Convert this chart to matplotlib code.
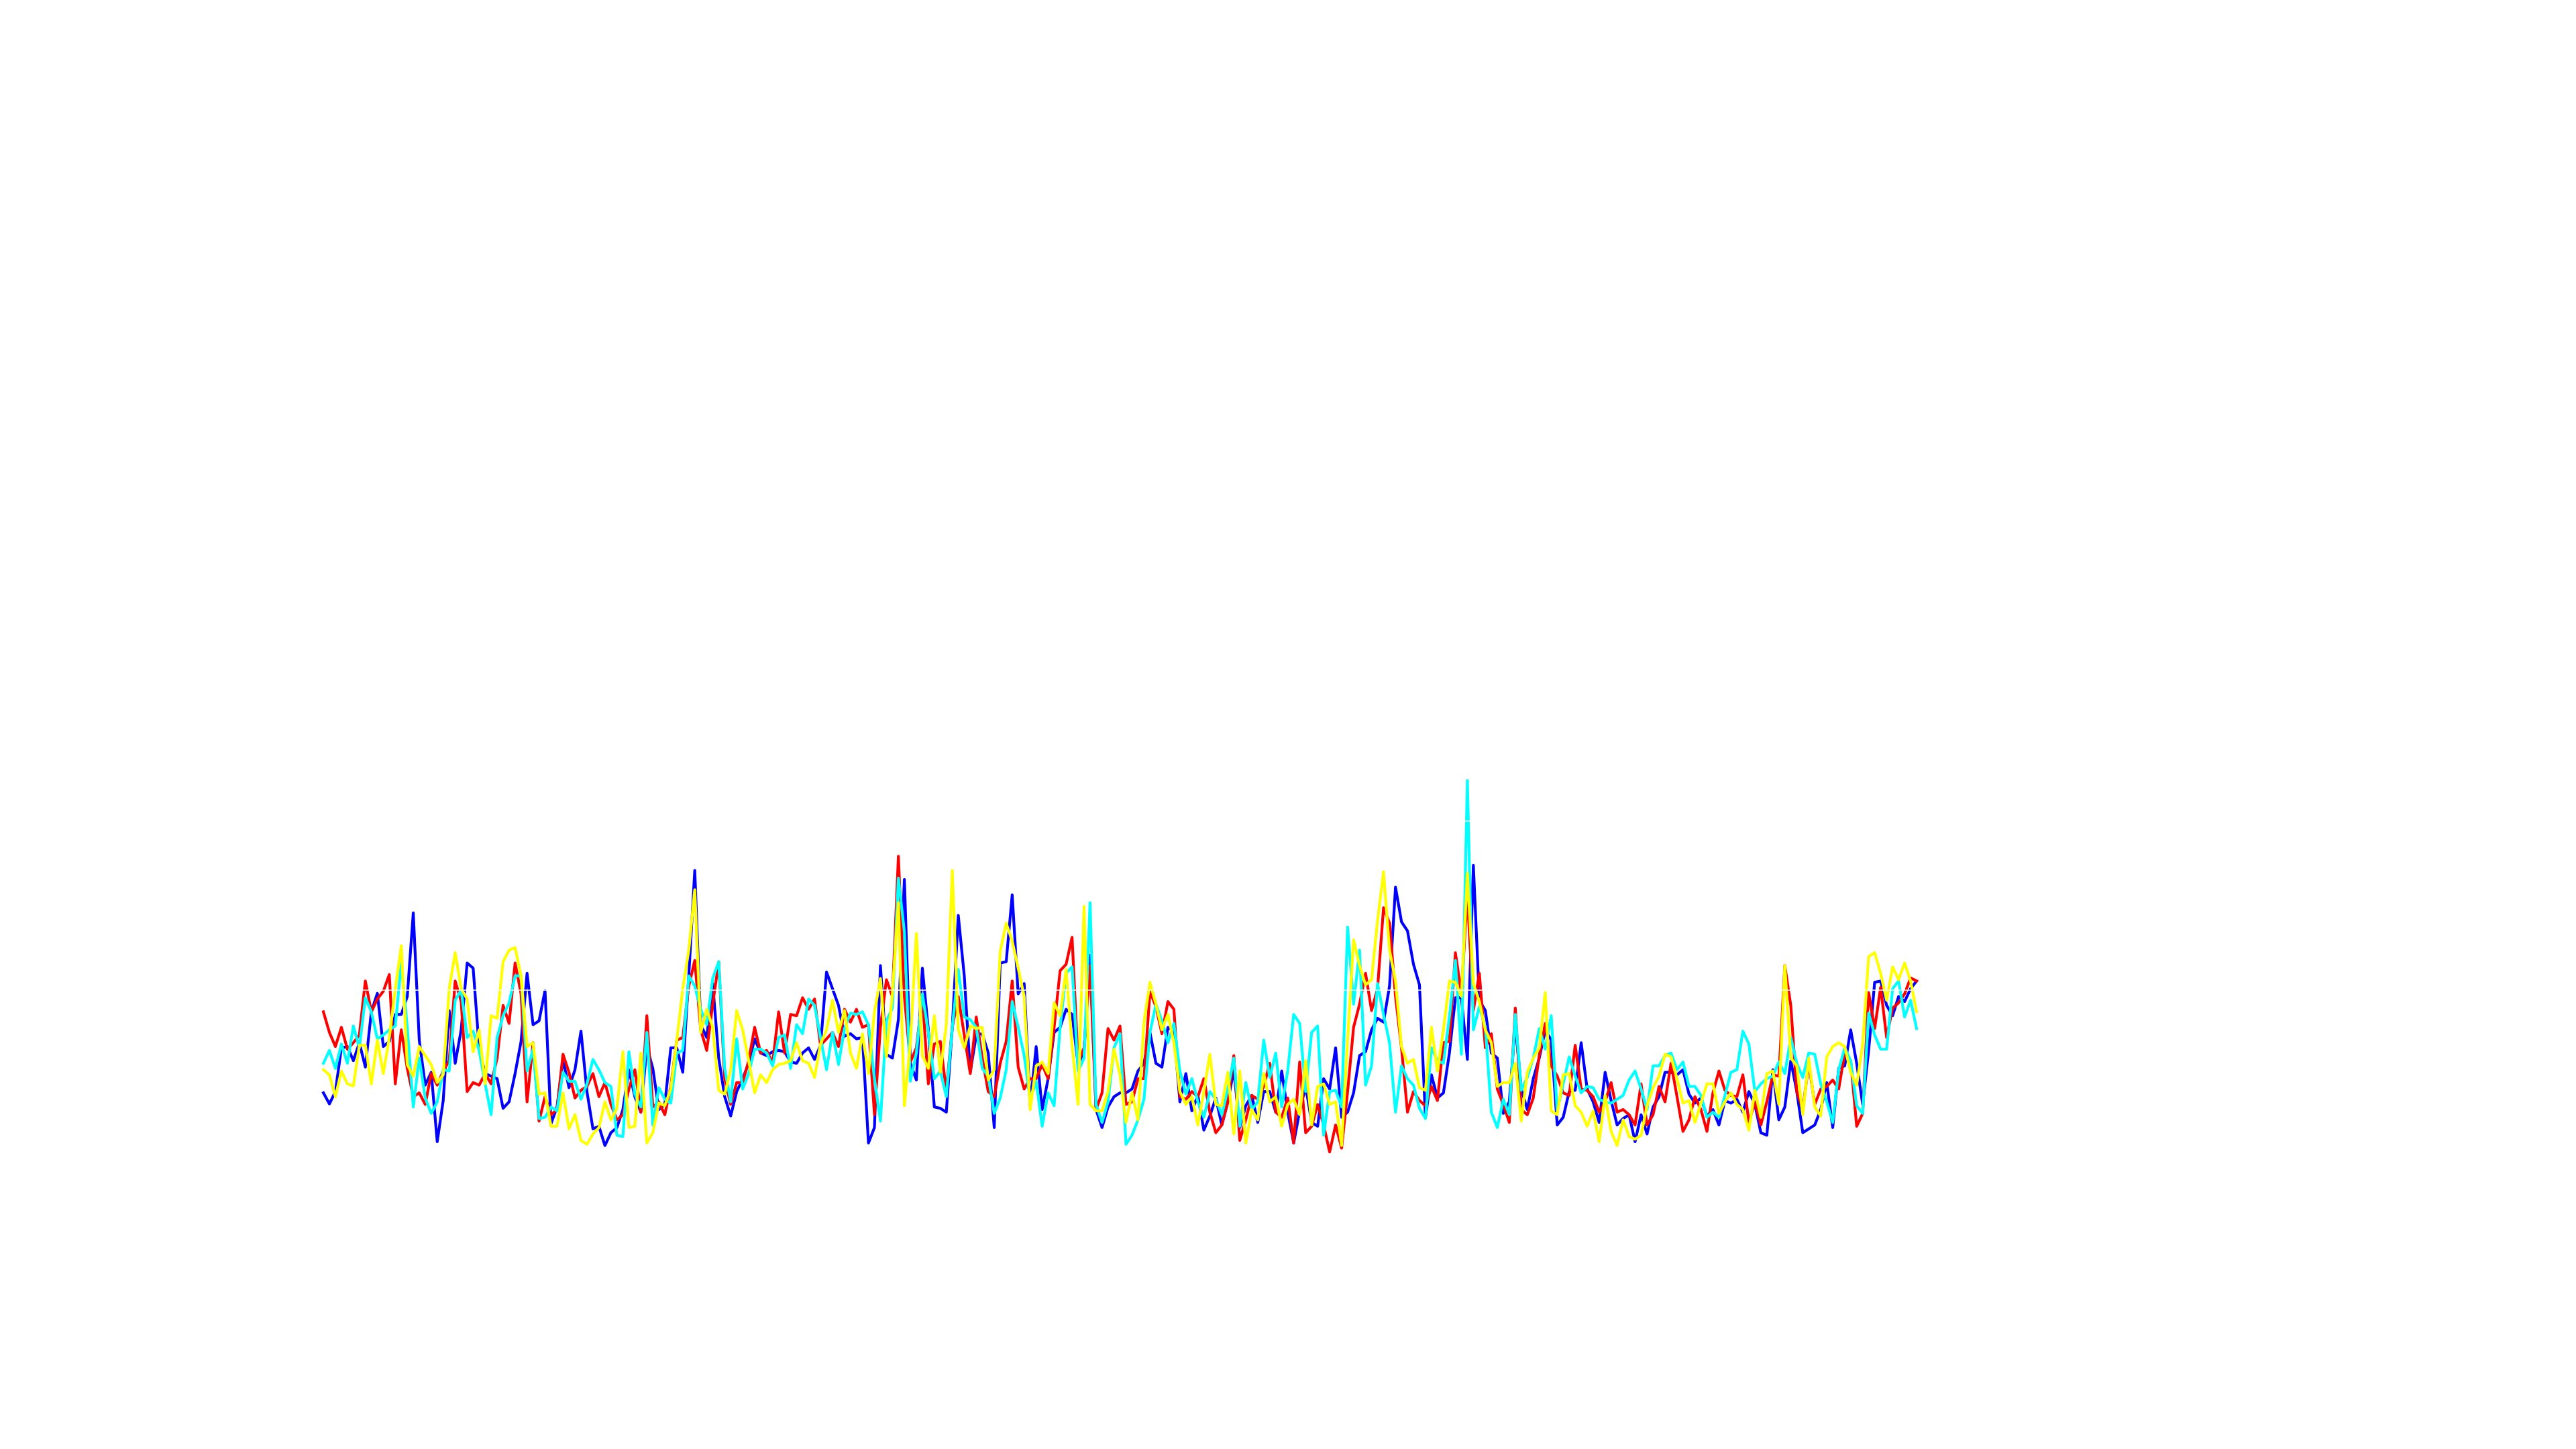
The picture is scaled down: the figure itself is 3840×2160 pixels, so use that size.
import numpy as np
import matplotlib
matplotlib.use("Agg")
import matplotlib.pyplot as plt

# values, one per step (267 steps)
blue = [485, 442, 490, 660, 665, 610, 680, 585, 800, 872, 665, 685, 790, 790, 860, 1185, 690, 515, 565, 295,
        455, 805, 600, 730, 990, 970, 660, 560, 550, 540, 425, 450, 560, 685, 950, 750, 765, 883, 365, 430,
        615, 505, 575, 725,
        490, 345, 355, 280, 330, 350, 420, 575, 470, 410, 665, 580, 420, 440, 660, 660, 565, 940, 1350, 750,
        700, 910, 620, 470, 395, 490, 540, 600, 695, 640, 630, 645, 650, 645, 605, 600, 640, 660, 615, 670,
        955, 890, 825, 705, 715,
        695, 700, 290, 350, 980, 635, 620, 770, 1315, 600, 535, 970, 730, 430, 425, 410, 740, 1175, 940, 565,
        710, 715, 640, 350, 990, 995, 1255, 870, 910, 435, 665, 420, 540, 720, 740, 810, 790, 595, 650, 1020,
        420, 350, 430, 470, 485,
        485, 500, 570, 600, 720, 600, 585, 740, 725, 450, 560, 415, 475, 340, 395, 465, 360, 450, 575, 350,
        435, 475, 370, 490, 490, 410, 570, 410, 290, 415, 510, 370, 355, 540, 500, 660, 390, 410, 485, 630,
        645, 730, 775, 760, 900,
        1285, 1150, 1115, 985, 905, 390, 555, 465, 485, 640, 855, 855, 615, 1370, 845, 805, 640, 620, 405, 450,
        755, 500, 420, 540, 620, 730, 690, 360, 390, 490, 495, 680, 500, 450, 370, 565, 455, 360, 385, 400,
        295, 400, 325, 430,
        470, 565, 565, 555, 575, 480, 445, 465, 395, 420, 360, 455, 445, 460, 410, 490, 440, 330, 320, 575,
        380, 430, 610, 490, 330, 345, 360, 420, 525, 350, 580, 590, 730, 600, 440, 650, 915, 920, 825, 785,
        860, 840, 890, 920]

red = [800, 720, 665, 740, 655, 680, 710, 920, 800, 850, 880, 945, 520, 730, 580, 470, 485, 440, 560, 515,
       570, 610, 920, 840, 490, 525, 515, 560, 520, 620, 825, 755, 990, 870, 450, 680, 375, 470, 400, 420,
       635, 565, 465, 495,
       510, 560, 470, 525, 440, 380, 400, 500, 575, 410, 785, 430, 450, 400, 510, 690, 700, 900, 1000, 730,
       650, 830, 995, 540, 440, 525, 525, 610, 740, 640, 650, 600, 800, 640, 790, 785, 855, 810, 850, 670,
       695, 720, 665, 810, 760,
       810, 740, 750, 400, 740, 925, 860, 1405, 860, 605, 660, 860, 520, 675, 685, 490, 740, 860, 710, 560,
       780, 620, 490, 470, 600, 685, 920, 585, 500, 540, 540, 595, 540, 740, 960, 985, 1090, 605, 660, 980,
       420, 485, 735, 690, 745,
       440, 450, 540, 540, 880, 820, 715, 840, 810, 470, 460, 490, 470, 540, 410, 330, 360, 450, 630, 300,
       380, 475, 460, 510, 600, 410, 390, 465, 290, 605, 330, 355, 440, 360, 255, 360, 270, 490, 740, 830,
       950, 805, 890, 1205, 1145,
       860, 660, 410, 490, 455, 435, 510, 455, 680, 685, 1030, 870, 1260, 805, 950, 660, 715, 500, 440, 370,
       815, 420, 400, 465, 630, 755, 590, 550, 485, 475, 670, 500, 495, 470, 410, 450, 525, 410, 420, 400,
       360, 520, 360, 400,
       510, 450, 600, 470, 335, 380, 470, 420, 335, 485, 570, 495, 475, 470, 555, 370, 450, 360, 450, 555,
       550, 980, 825, 490, 420, 600, 440, 500, 510, 535, 500, 640, 610, 355, 405, 875, 735, 895, 700, 815,
       835, 870, 932, 920]

cyan = [600, 650, 580, 675, 600, 745, 660, 855, 800, 695, 710, 730, 745, 990, 740, 430, 620, 465, 405, 450,
        575, 570, 845, 885, 700, 725, 650, 520, 400, 700, 785, 835, 940, 940, 570, 655, 385, 390, 430, 415,
        565, 530, 530, 460,
        520, 615, 575, 525, 510, 320, 315, 645, 480, 430, 720, 360, 505, 460, 445, 640, 650, 940, 900, 810,
        750, 930, 995, 580, 450, 695, 500, 560, 655, 655, 640, 590, 700, 710, 580, 750, 715, 850, 825, 700,
        575, 720, 595, 735, 795,
        790, 800, 750, 540, 375, 765, 815, 1320, 1110, 530, 640, 870, 720, 540, 570, 470, 740, 965, 780, 770,
        740, 580, 550, 405, 465, 575, 840, 740, 630, 460, 530, 355, 485, 435, 740, 950, 975, 570, 620, 1225,
        440, 370, 450, 660, 715,
        285, 320, 380, 460, 720, 830, 765, 680, 755, 570, 480, 540, 450, 390, 490, 460, 400, 500, 620, 355,
        525, 420, 450, 690, 545, 640, 430, 570, 790, 755, 490, 720, 745, 320, 490, 495, 430, 1130, 830, 1040,
        515, 590, 910, 790, 680,
        410, 590, 540, 515, 425, 385, 660, 610, 600, 780, 1000, 635, 1700, 730, 820, 740, 410, 350, 460, 400,
        790, 495, 545, 620, 735, 655, 785, 415, 520, 625, 550, 485, 510, 505, 460, 450, 445, 460, 475, 535,
        570, 500, 420, 590,
        590, 630, 640, 575, 605, 510, 510, 475, 390, 410, 390, 475, 565, 575, 725, 675, 490, 520, 540, 550,
        605, 560, 700, 600, 545, 640, 635, 520, 450, 370, 575, 660, 610, 435, 405, 795, 710, 655, 655, 890,
        920, 780, 845, 735]

yellow = [575, 555, 470, 570, 520, 512, 670, 670, 520, 690, 560, 700, 890, 1057, 595, 550, 665, 630, 595, 525,
          555, 890, 1030, 890, 850, 645, 730, 520, 785, 775, 995, 1040, 1050, 940, 665, 680, 480, 485, 355, 355,
          485, 345, 400, 300,
          285, 325, 350, 450, 380, 425, 645, 350, 355, 640, 290, 330, 445, 435, 500, 690, 890, 1040, 1275, 720,
          810, 740, 495, 480, 575, 805, 730, 610, 485, 555, 525, 575, 595, 600, 610, 680, 610, 600, 545, 675,
          730, 845, 720, 805, 640,
          580, 715, 560, 800, 930, 625, 870, 1225, 435, 680, 1105, 630, 580, 785, 565, 750, 1350, 730, 660, 745,
          735, 740, 535, 575, 1035, 1145, 1075, 970, 860, 420, 590, 605, 560, 835, 785, 965, 670, 440, 1210, 440,
          415, 415, 490, 655, 555,
          370, 485, 380, 760, 915, 830, 730, 790, 680, 490, 440, 470, 360, 490, 635, 440, 435, 565, 325, 570,
          290, 420, 380, 560, 450, 470, 355, 440, 460, 400, 610, 360, 510, 520, 440, 450, 280, 690, 1080, 980,
          905, 925, 1155, 1345, 1040,
          920, 665, 600, 615, 505, 495, 740, 570, 730, 920, 915, 860, 1340, 910, 840, 730, 680, 510, 525, 525,
          600, 375, 565, 620, 660, 875, 415, 400, 555, 560, 435, 410, 355, 415, 295, 475, 335, 280, 380, 315,
          305, 320, 435, 505,
          550, 635, 625, 540, 445, 455, 370, 445, 520, 520, 405, 450, 485, 440, 420, 340, 495, 390, 560, 570,
          440, 980, 620, 590, 400, 620, 430, 395, 625, 665, 680, 665, 565, 515, 675, 1015, 1030, 950, 845, 975,
          925, 990, 920, 800]

series = [(blue, "#0000ff"), (red, "#ff0000"), (cyan, "#00ffff"), (yellow, "#ffff00")]

fig = plt.figure(figsize=(19.2, 10.8), dpi=200)
ax = fig.add_axes([0, 0, 1, 1])

x = np.arange(len(blue))
for vals, col in series:
    ax.plot(x, vals, color=col, lw=1.5)

# white horizontal grid drawn over the lines (only visible where it cuts them)
ax.set_yticks(884 + 657.6 * np.arange(-1, 6))
ax.set_xticks([])
ax.set_axisbelow(False)
ax.grid(axis="y", color="white", lw=0.55)
ax.tick_params(left=False, bottom=False, labelleft=False, labelbottom=False)
for s in ax.spines.values():
    s.set_visible(False)

# the plotted data sits in the left-middle part of a much larger axes
# (limits set after the ticks so the ticks don't widen the view)
ax.set_xlim(-54.0, 376.1)
ax.set_ylim(-900, 4735)

fig.savefig("out.png", dpi=200, facecolor="white")
